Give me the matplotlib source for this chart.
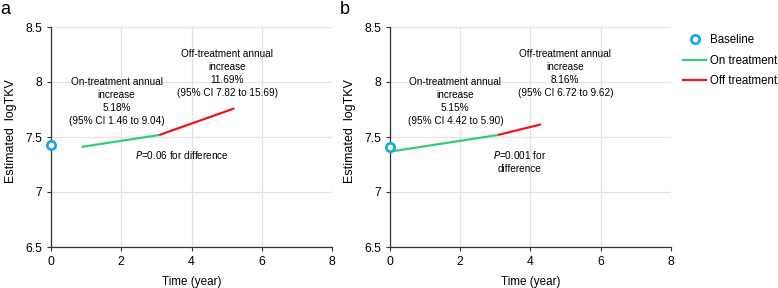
import matplotlib
matplotlib.use("Agg")
import matplotlib.pyplot as plt
from matplotlib.lines import Line2D

plt.rcParams['font.family'] = ['Liberation Sans', 'DejaVu Sans']

# Panel a
a_base_x, a_base_y = [0.0], [7.427]
a_on_x, a_on_y = [0.87, 3.08], [7.41, 7.518]
a_off_x, a_off_y = [3.08, 5.22], [7.518, 7.76]
# Panel b
b_base_x, b_base_y = [0.0], [7.41]
b_on_x, b_on_y = [0.0, 3.07], [7.367, 7.518]
b_off_x, b_off_y = [3.07, 4.30], [7.518, 7.615]

xticks = [0, 2, 4, 6, 8]
yticks = [6.5, 7, 7.5, 8, 8.5]
ytick_labels = ['6.5', '7', '7.5', '8', '8.5']

a_on_text = "On-treatment annual\nincrease\n5.18%\n(95% CI 1.46 to 9.04)"
a_off_text = "Off-treatment annual\nincrease\n11.69%\n(95% CI 7.82 to 15.69)"
b_on_text = "On-treatment annual\nincrease\n5.15%\n(95% CI 4.42 to 5.90)"
b_off_text = "Off-treatment annual\nincrease\n8.16%\n(95% CI 6.72 to 9.62)"

BLUE = '#1BA8E6'
GREEN = '#33CC77'
RED = '#F01515'
FS = 7.2
LS = 1.38

fig = plt.figure(figsize=(7.78, 2.88), dpi=100)
axa = fig.add_axes([51/778, 1-247/288, 281/778, 220/288])
axb = fig.add_axes([390/778, 1-247/288, 281/778, 220/288])

def style(ax):
    ax.set_xlim(0, 8)
    ax.set_ylim(6.5, 8.5)
    ax.set_xticks(xticks)
    ax.set_yticks(yticks)
    ax.set_yticklabels(ytick_labels)
    ax.grid(True, color='#E3E3E3', linewidth=0.9)
    ax.set_axisbelow(True)
    for s in ['top', 'right']:
        ax.spines[s].set_visible(False)
    for s in ['left', 'bottom']:
        ax.spines[s].set_color('#333333')
        ax.spines[s].set_linewidth(0.9)
    ax.tick_params(axis='both', labelsize=8.7, length=3, width=0.8, color='#333333', pad=3.5)
    ax.set_xlabel('Time (year)', fontsize=8.4)
    ax.set_ylabel('Estimated  logTKV', fontsize=9.0)
    ax.xaxis.set_label_coords(0.5, -0.158, transform=ax.transAxes)
    ax.xaxis.label.set_va('center')
    ax.yaxis.set_label_coords(-0.142, 0.527, transform=ax.transAxes)
    ax.yaxis.label.set_va('center')

for ax, bx, by, ox, oy, fx, fy in [
    (axa, a_base_x, a_base_y, a_on_x, a_on_y, a_off_x, a_off_y),
    (axb, b_base_x, b_base_y, b_on_x, b_on_y, b_off_x, b_off_y)]:
    style(ax)
    ax.plot(ox, oy, color=GREEN, lw=1.6, solid_capstyle='butt', zorder=3)
    ax.plot(fx, fy, color=RED, lw=1.6, solid_capstyle='butt', zorder=3)
    ax.plot(bx, by, 'o', ms=6, mfc='white', mec=BLUE, mew=2, clip_on=False, zorder=4)

axa.text(1.87, 7.82, a_on_text, ha='center', va='center', fontsize=FS, linespacing=LS)
axa.text(5.02, 8.075, a_off_text, ha='center', va='center', fontsize=FS, linespacing=LS)
axa.text(3.72, 7.336, r"$\it{P}$=0.06 for difference", ha='center', va='center', fontsize=FS)

axb.text(1.86, 7.82, b_on_text, ha='center', va='center', fontsize=FS, linespacing=LS)
axb.text(4.99, 8.075, b_off_text, ha='center', va='center', fontsize=FS, linespacing=LS)
axb.text(3.69, 7.277, r"$\it{P}$=0.001 for" + "\ndifference", ha='center', va='center', fontsize=FS, linespacing=LS)

fig.text(0/778, 1-10/288, 'a', fontsize=13, va='center', ha='left')
fig.text(340/778, 1-10/288, 'b', fontsize=13, va='center', ha='left')

handles = [
    Line2D([], [], marker='o', ls='none', ms=6, mfc='white', mec=BLUE, mew=2),
    Line2D([], [], color=GREEN, lw=1.6),
    Line2D([], [], color=RED, lw=1.6),
]
fig.legend(handles, ['Baseline', 'On treatment', 'Off treatment'],
           loc='upper left', bbox_to_anchor=(683/778, 1-34/288), frameon=False,
           fontsize=8.3, handlelength=2.0, handletextpad=0.35, labelspacing=0.75,
           borderaxespad=0, borderpad=0)

fig.savefig('out.png', dpi=100)
